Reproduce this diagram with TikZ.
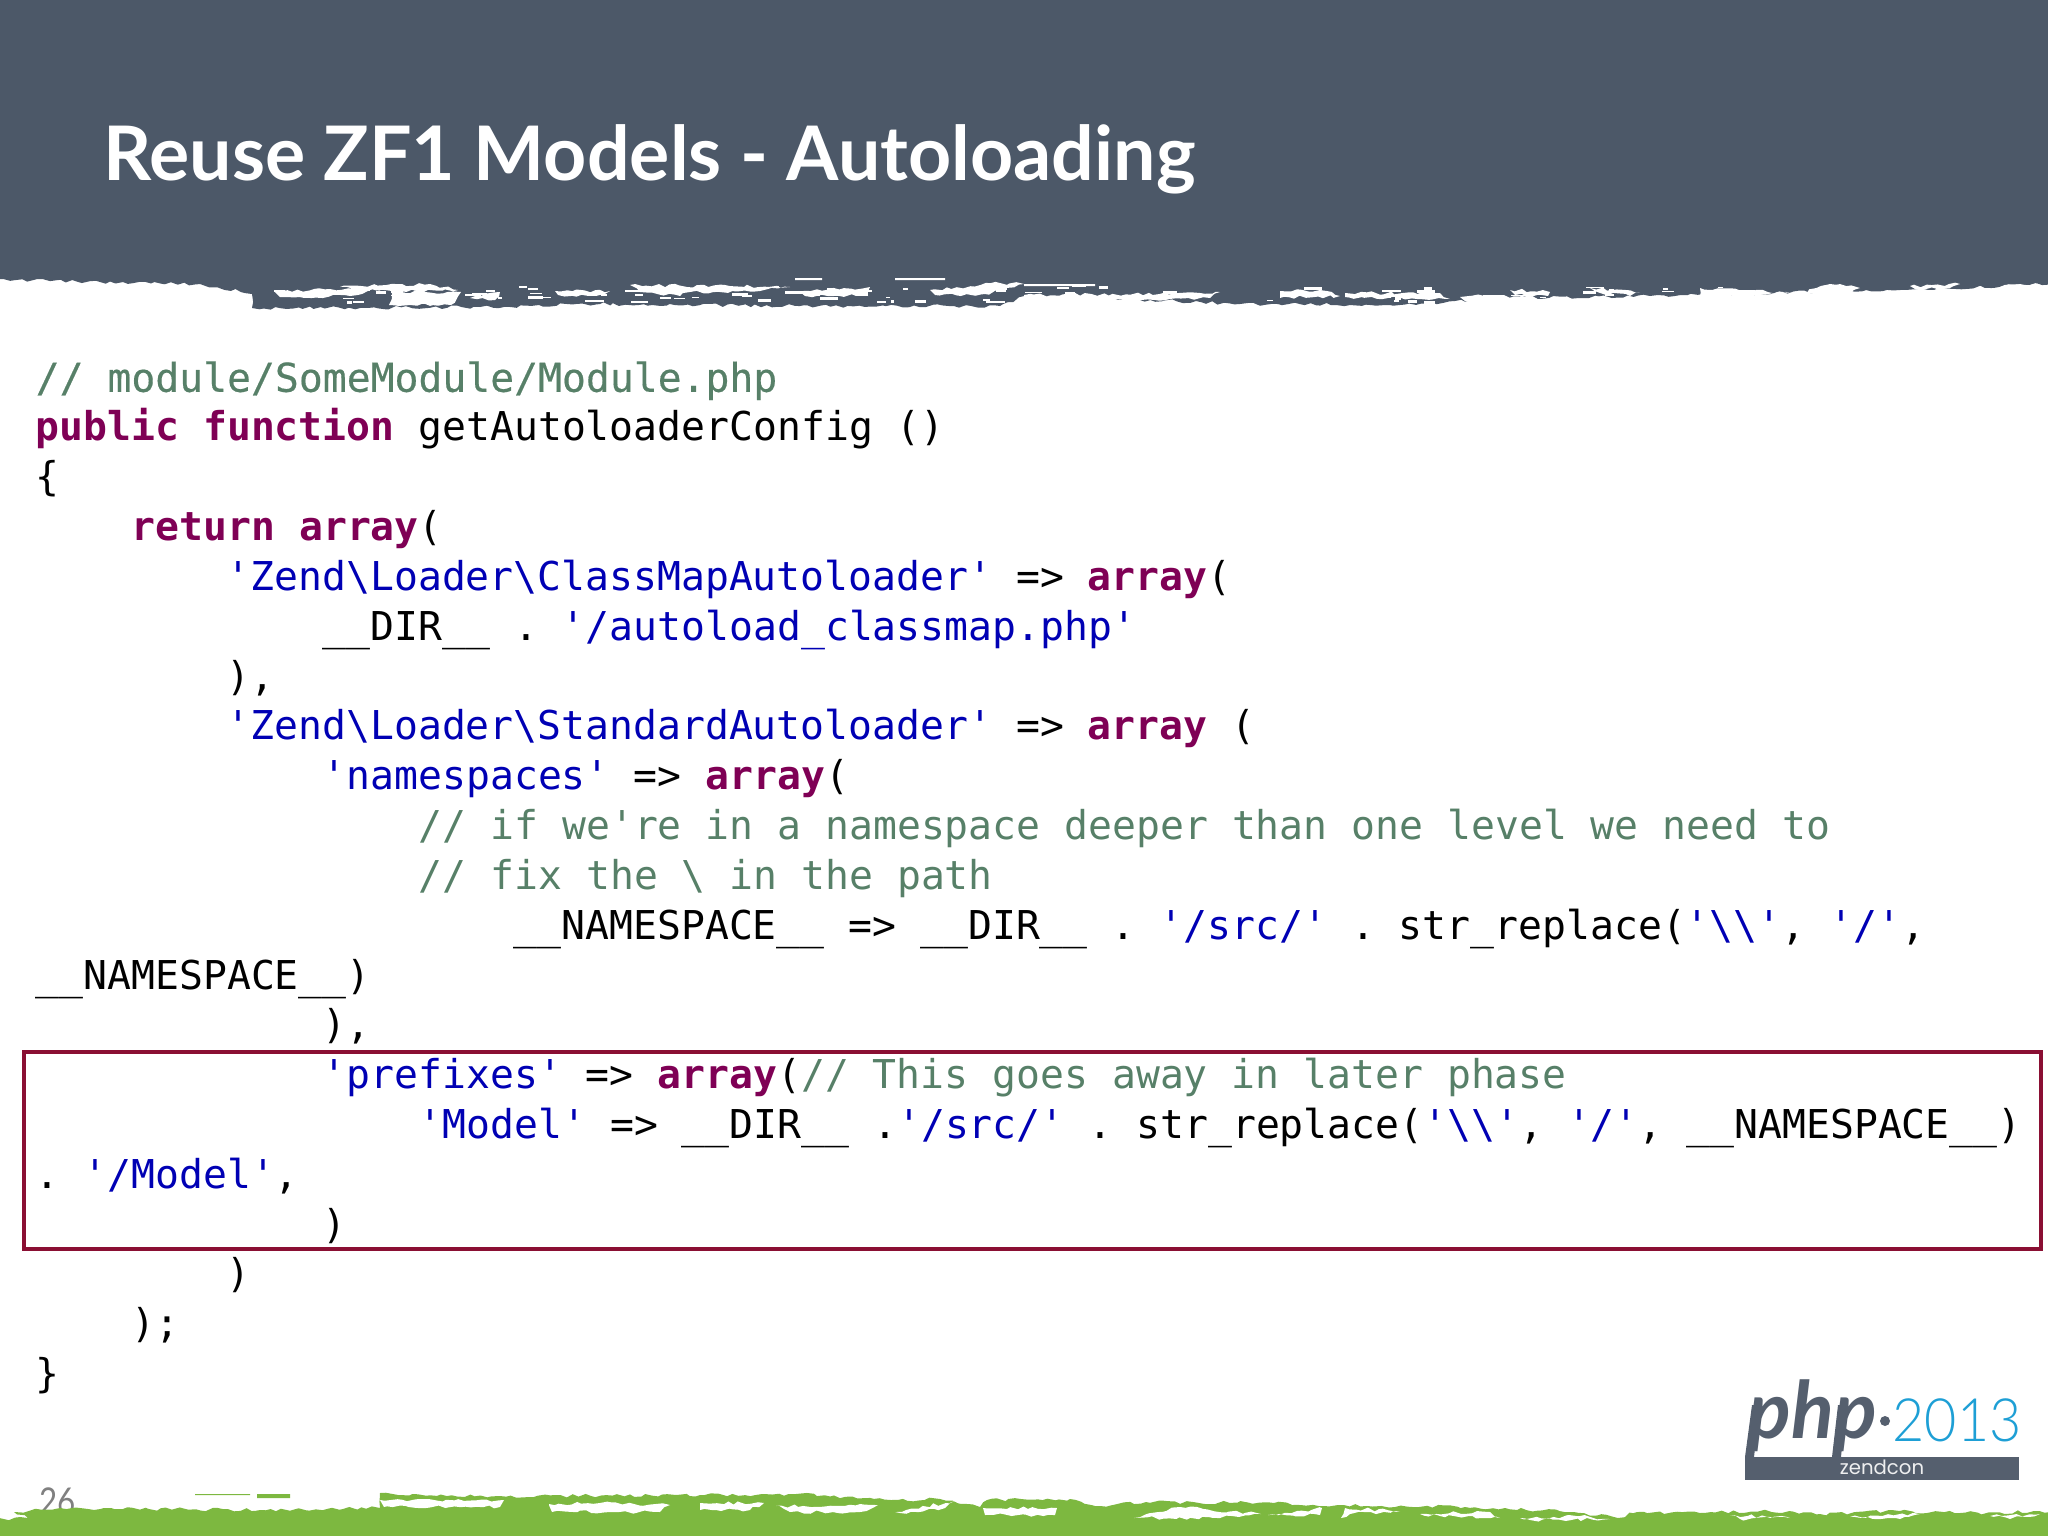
\documentclass[tikz,border=0pt]{standalone}
\usepackage{fontspec}
\usetikzlibrary{decorations.pathmorphing}
\setmonofont{DejaVu Sans Mono}
\setsansfont{Lato}
\newfontfamily\logofont[FakeStretch=0.93]{Lato Light}
\newfontfamily\zendfont{Poppins}
\newfontfamily\pagefont[FakeStretch=0.85]{Lato}
\definecolor{headgrey}{HTML}{4C5868}
\definecolor{footgreen}{HTML}{7DB840}
\definecolor{kwred}{HTML}{7F0055}
\definecolor{strblue}{HTML}{0000B4}
\definecolor{cmtgreen}{HTML}{578068}
\definecolor{boxred}{HTML}{8A0F33}
\definecolor{logoblue}{HTML}{1E9FD5}
\definecolor{logogrey}{HTML}{555F6E}
\newcommand{\kw}[1]{\textcolor{kwred}{\bfseries #1}}
\newcommand{\str}[1]{\textcolor{strblue}{#1}}
\newcommand{\cmt}[1]{\textcolor{cmtgreen}{#1}}
\newcommand{\bs}{\textbackslash{}}
\begin{document}
\begin{tikzpicture}[x=0.01cm, y=-0.01cm,
    code/.style = {anchor=base west, inner sep=0pt, yshift=0.35pt, font=\fontsize{11.3}{13}\selectfont\ttfamily},
    title/.style = {anchor=base west, inner sep=0pt, text=white, font=\fontsize{21.4}{24}\selectfont\sffamily\bfseries},
    rough/.style = {decorate, decoration={random steps, segment length=1.6pt, amplitude=0.5pt}}]
    \useasboundingbox (0,0) rectangle (2048,1536);
    \pgfmathsetseed{26}
    % header band
    \fill[headgrey, rough] (-30,-30) -- (2080,-30) -- (2080,283) -- (1900,290) -- (1650,296) -- (1500,298) -- (1400,305)
        -- (1240,304) -- (1100,298) -- (1024,296) -- (1000,306) -- (800,306) -- (600,304) -- (480,307)
        -- (360,308) -- (252,308) -- (252,294) -- (200,284) -- (100,282) -- (-30,279) -- cycle;
    \fill[white, rough] (275,292) -- (330,289) -- (385,288) -- (350,296) -- (280,297) -- cycle
        (392,293) -- (461,292) -- (451,305) -- (389,305) -- cycle
        (340,287) -- (430,284) -- (458,290) -- (392,291) -- cycle
        (470,298) -- (500,292) -- (495,300) -- cycle
        (555,291) -- (610,291) -- (600,295) -- (558,295) -- cycle
        (630,285) -- (790,287) -- (760,291) -- (690,292) -- (680,296) -- (640,292) -- cycle
        (800,292) -- (870,287) -- (868,296) -- (805,296) -- cycle
        (930,290) -- (1000,283) -- (1024,284) -- (1000,290) -- (985,294) -- (935,295) -- cycle
        (1024,295) -- (1200,293) -- (1220,292) -- (1210,298) -- (1100,301) -- (1024,300) -- cycle
        (1280,291) -- (1320,290) -- (1340,296) -- (1280,298) -- cycle
        (1345,293) -- (1440,293) -- (1450,299) -- (1345,297) -- cycle
        (1460,297) -- (1500,295) -- (1540,300) -- (1470,302) -- cycle
        (1510,290) -- (1550,292) -- (1548,296) -- (1515,295) -- cycle
        (1590,288) -- (1640,292) -- (1630,296) -- (1600,293) -- cycle
        (1700,288) -- (1790,293) -- (1700,297) -- cycle
        (1800,294) -- (1830,284) -- (1860,288) -- (1840,294) -- cycle
        (1910,286) -- (1960,284) -- (1950,288) -- (1915,289) -- cycle
        (2000,287) -- (2020,284) -- (2040,285) -- (2030,290) -- (2005,291) -- cycle;
    \fill[white] (795,278) rectangle (822,280) (895,278) rectangle (945,280) (1024,284) rectangle (1095,286);
    % specks along the torn edge
    \foreach \i in {1,...,90} {
        \pgfmathsetmacro{\px}{270+rnd*1500}
        \pgfmathsetmacro{\py}{285+rnd*17}
        \fill[white] (\px,\py) rectangle ++(3+rnd*16,1+rnd*2);
    }
    \node[title] (titletext) at (103,180) {Reuse ZF1 Models - Autoloading};
    % highlight round the prefixes
    \draw[boxred, line width=1.1pt] (24,1052) rectangle (2041,1249);
    % code lines
    \node[code] (line1) at (35,393) {\cmt{\addfontfeature{FakeBold=0.4}// module/SomeModule/Module.php}};
    \node[code] (line2) at (35,442) {\kw{public function} getAutoloaderConfig ()};
    \node[code] (line3) at (35,492) {\{};
    \node[code] (line4) at (131,542) {\kw{return array}(};
    \node[code] (line5) at (226,592) {\str{'Zend\bs Loader\bs ClassMapAutoloader'} => \kw{array}(};
    \node[code] (line6) at (322,642) {\_\_DIR\_\_ . \str{'/autoload\_classmap.php'}};
    \node[code] (line7) at (226,692) {),};
    \node[code] (line8) at (226,741) {\str{'Zend\bs Loader\bs StandardAutoloader'} => \kw{array} (};
    \node[code] (line9) at (322,791) {\str{'namespaces'} => \kw{array}(};
    \node[code] (line10) at (418,841) {\cmt{// if we're in a namespace deeper than one level we need to}};
    \node[code] (line11) at (418,891) {\cmt{// fix the \bs{} in the path}};
    \node[code] (line12) at (513,941) {\_\_NAMESPACE\_\_ => \_\_DIR\_\_ . \str{'/src/'} . str\_replace(\str{'\bs\bs'}, \str{'/'},};
    \node[code] (line13) at (35,991) {\_\_NAMESPACE\_\_)};
    \node[code] (line14) at (322,1040) {),};
    \node[code] (line15) at (322,1090) {\str{'prefixes'} => \kw{array}(\cmt{// This goes away in later phase}};
    \node[code] (line16) at (418,1140) {\str{'Model'} => \_\_DIR\_\_ .\str{'/src/'} . str\_replace(\str{'\bs\bs'}, \str{'/'}, \_\_NAMESPACE\_\_)};
    \node[code] (line17) at (35,1190) {. \str{'/Model'},};
    \node[code] (line18) at (322,1240) {)};
    \node[code] (line19) at (226,1289) {)};
    \node[code] (line20) at (131,1339) {);};
    \node[code] (line21) at (35,1389) {\}};
    % logo
    \fill[logogrey] (1745,1457) rectangle (2019,1480);
    \fill[logogrey] (1745,1457) -- (1752,1405) -- (1760,1405) -- (1754,1457) -- cycle
        (1832,1457) -- (1838,1405) -- (1846,1405) -- (1841,1457) -- cycle;
    \node[anchor=base west, inner sep=0pt, text=logogrey, font=\fontsize{22.5}{24}\selectfont\sffamily\bfseries\itshape] (logophp) at (1748,1438) {php};
    \fill[logogrey] (1885,1421) circle (5);
    \node[anchor=base west, inner sep=0pt, text=logoblue, font=\fontsize{17}{20}\selectfont\logofont] (logoyear) at (1892,1441) {2013};
    \node[anchor=base, inner sep=0pt, text=white!90!logogrey, font=\fontsize{5.6}{7}\selectfont\zendfont] (logocon) at (1882,1474) {zendcon};
    % page number, the green band runs over it
    \node[anchor=base west, inner sep=0pt, text=black!50, font=\fontsize{10.5}{12}\selectfont\pagefont] (pagenum) at (39,1514) {26};
    % footer band
    \fill[footgreen, rough] (-30,1570) -- (-30,1520) -- (28,1518) -- (14,1512) -- (60,1508) -- (260,1510) -- (380,1508)
        -- (380,1493) -- (500,1496) -- (700,1495) -- (796,1494) -- (891,1500) -- (940,1499) -- (980,1507)
        -- (987,1500) -- (1070,1499) -- (1095,1506) -- (1146,1502) -- (1274,1503) -- (1338,1505) -- (1465,1507)
        -- (1574,1512) -- (1618,1518) -- (1637,1512) -- (1700,1513) -- (1760,1511) -- (1820,1514) -- (1900,1511)
        -- (1960,1513) -- (2080,1511) -- (2080,1570) -- cycle;
    \fill[footgreen] (195,1494) rectangle (250,1495) (257,1494) rectangle (290,1498);
    \fill[white, rough] (380,1500) -- (504,1500) -- (500,1507) -- (384,1507) -- cycle
        (549,1504) -- (600,1503) -- (670,1505) -- (660,1512) -- (552,1512) -- cycle
        (700,1503) -- (764,1503) -- (750,1510) -- (700,1510) -- cycle
        (776,1506) -- (878,1505) -- (860,1512) -- (790,1512) -- cycle
        (895,1512) -- (955,1501) -- (945,1508) -- (900,1513) -- cycle
        (983,1508) -- (1057,1508) -- (1055,1515) -- (985,1515) -- cycle
        (1134,1518) -- (1180,1507) -- (1261,1514) -- (1220,1518) -- cycle
        (1268,1515) -- (1322,1508) -- (1320,1515) -- cycle
        (1341,1518) -- (1345,1508) -- (1400,1511) -- (1350,1514) -- cycle
        (1420,1514) -- (1490,1512) -- (1500,1518) -- (1440,1516) -- cycle
        (1520,1518) -- (1580,1516) -- (1610,1519) -- (1530,1520) -- cycle
        (1730,1515) -- (1790,1518) -- (1740,1519) -- cycle
        (1850,1517) -- (1920,1514) -- (1900,1519) -- cycle
        (1990,1516) -- (2040,1514) -- (2010,1519) -- cycle;
\end{tikzpicture}
\end{document}
